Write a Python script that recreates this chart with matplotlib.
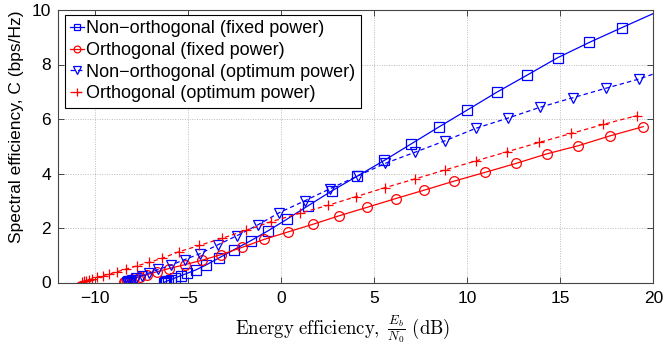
import matplotlib
matplotlib.use("Agg")
import matplotlib.pyplot as plt
import numpy as np

plt.rcParams['font.family'] = ['Liberation Sans', 'DejaVu Sans']
plt.rcParams['mathtext.fontset'] = 'cm'

# Non-orthogonal (fixed power) -- last point is line continuation only (no marker)
x_nofp = [-6.3, -6.26, -6.19, -6.08, -5.92, -5.7, -5.4, -5.05, -4.6, -4.05, -3.35, -2.55,
          -1.65, -0.7, 0.3, 1.45, 2.74, 4.08, 5.54, 6.97, 8.48, 10.0, 11.58, 13.19,
          14.86, 16.56, 18.3, 20.0]
y_nofp = [0.0, 0.02, 0.04, 0.07, 0.11, 0.17, 0.25, 0.34, 0.46, 0.64, 0.9, 1.2,
          1.53, 1.9, 2.32, 2.82, 3.37, 3.9, 4.48, 5.08, 5.71, 6.33, 6.98, 7.60,
          8.25, 8.81, 9.35, 9.87]

# Orthogonal (fixed power)
x_ofp = [-8.45, -8.38, -8.28, -8.12, -7.9, -7.6, -7.2, -6.7, -6.05, -5.2, -4.25, -3.25,
         -2.1, -0.93, 0.34, 1.72, 3.12, 4.62, 6.15, 7.69, 9.29, 10.95, 12.62, 14.27,
         15.97, 17.67, 19.46]
y_ofp = [0.01, 0.03, 0.06, 0.10, 0.15, 0.21, 0.29, 0.39, 0.51, 0.65, 0.82, 1.02,
         1.29, 1.58, 1.85, 2.14, 2.45, 2.76, 3.08, 3.39, 3.72, 4.04, 4.37, 4.72,
         5.02, 5.38, 5.72]

# Non-orthogonal (optimum power) -- last point is line continuation only
x_noop = [-8.3, -8.27, -8.22, -8.13, -8.0, -7.8, -7.5, -7.1, -6.6, -5.95, -5.2, -4.35,
          -3.42, -2.4, -1.27, -0.11, 1.27, 2.62, 4.11, 5.58, 7.19, 8.8, 10.47, 12.17,
          13.91, 15.67, 17.46, 19.25, 20.0]
y_noop = [0.0, 0.02, 0.04, 0.07, 0.11, 0.17, 0.25, 0.35, 0.48, 0.63, 0.84, 1.06,
          1.38, 1.71, 2.11, 2.56, 3.0, 3.44, 3.91, 4.37, 4.78, 5.20, 5.66, 6.03,
          6.43, 6.78, 7.13, 7.47, 7.65]

# Orthogonal (optimum power)
x_oop = [-10.73, -10.62, -10.5, -10.35, -10.15, -9.9, -9.6, -9.25, -8.85, -8.35, -7.75,
         -7.1, -6.4, -5.5, -4.4, -3.2, -1.9, -0.55, 1.0, 2.5, 4.02, 5.58, 7.19, 8.8,
         10.45, 12.15, 13.86, 15.6, 17.3, 19.1]
y_oop = [0.03, 0.05, 0.07, 0.10, 0.14, 0.19, 0.25, 0.31, 0.39, 0.49, 0.61,
         0.74, 0.89, 1.13, 1.36, 1.62, 1.91, 2.23, 2.54, 2.83, 3.15, 3.48, 3.80, 4.13,
         4.46, 4.80, 5.14, 5.47, 5.80, 6.12]

labels = ['Non\u2212orthogonal (fixed power)', 'Orthogonal (fixed power)',
          'Non\u2212orthogonal (optimum power)', 'Orthogonal (optimum power)']
xticks = [-10, -5, 0, 5, 10, 15, 20]
yticks = [0, 2, 4, 6, 8, 10]

fig = plt.figure(figsize=(6.65, 3.48), dpi=100)
ax = fig.add_axes([58/665, 1-282.5/348, (653.3-58)/665, (282.5-10)/348])

ms = 6.5
mew = 0.9
lw = 0.9
dash = (0, (3.5, 2.5))
ax.plot(x_nofp, y_nofp, color='b', ls='-', lw=lw, marker='s', ms=ms, mew=mew,
        mfc='none', markevery=list(range(len(x_nofp)-1)), label=labels[0])
ax.plot(x_ofp, y_ofp, color='r', ls='-', lw=lw, marker='o', ms=ms+0.5, mew=mew,
        mfc='none', label=labels[1])
ax.plot(x_noop, y_noop, color='b', ls=dash, lw=lw, marker='v', ms=ms+1, mew=mew,
        mfc='none', markevery=list(range(len(x_noop)-1)), label=labels[2])
ax.plot(x_oop, y_oop, color='r', ls=dash, lw=lw, marker='+', ms=ms+1, mew=mew,
        label=labels[3])

ax.set_xlim(-12, 20)
ax.set_ylim(0, 10)
ax.set_xticks(xticks)
ax.set_yticks(yticks)
ax.set_xticklabels([str(t).replace('-', '\u2212') for t in xticks])
ax.set_yticklabels([str(t) for t in yticks])
ax.tick_params(direction='in', top=True, right=True, labelsize=12.5, length=4,
               width=0.7, color='#444444')
ax.tick_params(axis='x', pad=6)
ax.tick_params(axis='y', pad=5)
ax.grid(True, ls=(0, (1, 1.5)), color='#bbbbbb', lw=0.7)
for s in ax.spines.values():
    s.set_linewidth(0.8)
    s.set_color('#444444')

ax.set_ylabel('Spectral efficiency, C (bps/Hz)', fontsize=12.5, va='center')
ax.yaxis.set_label_coords(-(58-17)/595.3, (282.5-127)/272.5)
ax.set_xlabel(r'$\mathrm{Energy\ efficiency,}\ \frac{E_b}{N_0}\ \mathrm{(dB)}$',
              fontsize=13.5, va='center')
ax.xaxis.set_label_coords((343-58)/595.3, -(330-282.5)/272.5)

leg = ax.legend(loc='upper left', bbox_to_anchor=(7/595.3, 1-5/272.5), borderaxespad=0,
                fontsize=13.0, fancybox=False, framealpha=1, edgecolor='black',
                handlelength=0.75, handletextpad=0.12, labelspacing=0.26,
                borderpad=0.3, markerscale=0.7)
leg.get_frame().set_linewidth(0.8)

fig.savefig('out.png', dpi=100)
